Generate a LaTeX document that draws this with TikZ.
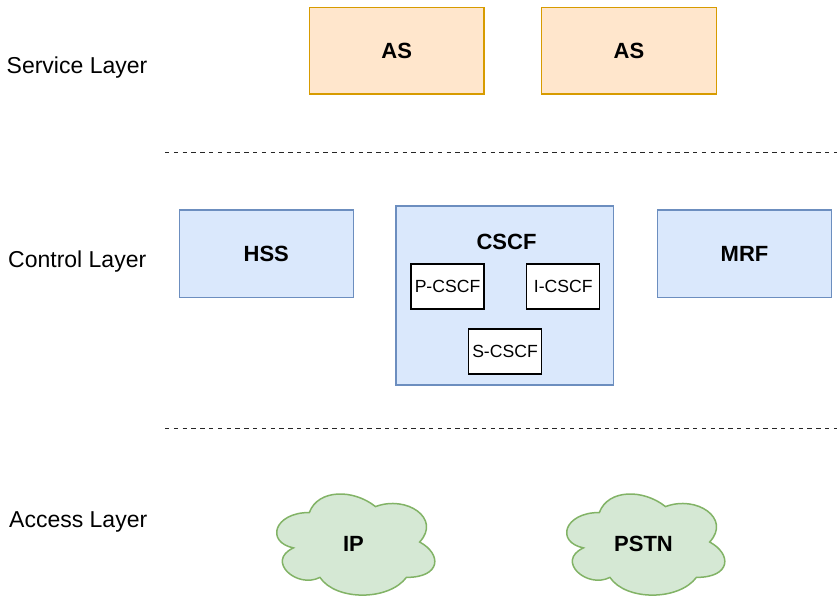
\documentclass[tikz,border=0pt]{standalone}
\usepackage{fontspec}
\setmainfont{Liberation Sans}
\definecolor{asfill}{HTML}{FFE6CC}
\definecolor{asdraw}{HTML}{D79B00}
\definecolor{bfill}{HTML}{DAE8FC}
\definecolor{bdraw}{HTML}{6C8EBF}
\definecolor{gfill}{HTML}{D5E8D4}
\definecolor{gdraw}{HTML}{82B366}
\tikzset{
  layerlabel/.style={anchor=base west, inner sep=0pt, font=\fontsize{23}{27}\selectfont},
  boldlabel/.style={inner sep=0pt, font=\fontsize{22}{26}\selectfont\bfseries},
  asbox/.style={draw=asdraw, fill=asfill, line width=1.5pt, minimum width=174.7pt, minimum height=86.7pt, inner sep=0pt, font=\fontsize{22}{26}\selectfont\bfseries},
  bluebox/.style={draw=bdraw, fill=bfill, line width=1.5pt, inner sep=0pt, font=\fontsize{22}{26}\selectfont\bfseries},
  subbox/.style={draw=black, fill=white, line width=1.3pt, minimum width=73pt, minimum height=45pt, inner sep=0pt, font=\fontsize{17.6}{21}\selectfont},
  sepline/.style={line width=1.5pt, black!85, dash pattern=on 4.4pt off 4.4pt},
  cloudshape/.pic={
    \filldraw[fill=gfill, draw=gdraw, line width=1.5pt]
      (0.25,0.25) .. controls (0.05,0.25) and (0,0.5) .. (0.16,0.55)
      .. controls (0,0.66) and (0.18,0.9) .. (0.31,0.8)
      .. controls (0.4,1) and (0.7,1) .. (0.8,0.8)
      .. controls (1,0.8) and (1,0.6) .. (0.875,0.5)
      .. controls (1,0.3) and (0.8,0.1) .. (0.625,0.2)
      .. controls (0.5,0.05) and (0.3,0.05) .. (0.25,0.25) -- cycle;
  }
}
\begin{document}
\begin{tikzpicture}[x=1pt, y=-1pt]
\useasboundingbox (0,0) rectangle (837,596);

% layer labels
\node[layerlabel] (svc) at (6.5,73.3) {Service Layer};
\node[layerlabel] (ctl) at (8,267.7) {Control Layer};
\node[layerlabel] (acc) at (9,527.7) {Access Layer};

% separators
\coordinate (s1a) at (165,152.3);
\coordinate (s1b) at (837,152.3);
\coordinate (s2a) at (165,428.3);
\coordinate (s2b) at (837,428.3);
\draw[sepline] (s1a) -- (s1b);
\draw[sepline] (s2a) -- (s2b);

% service layer
\node[asbox] (as1) at (396.7,50.7) {AS};
\node[asbox] (as2) at (629,50.7) {AS};

% control layer
\node[bluebox, minimum width=174pt, minimum height=87.3pt] (hss) at (266.3,253.7) {HSS};
\node[bluebox, minimum width=174.4pt, minimum height=87.3pt] (mrf) at (744.5,253.7) {MRF};
\node[bluebox, minimum width=217.3pt, minimum height=179pt] (cscf) at (504.7,295.5) {};
\node[boldlabel] (cscft) at (506.5,241.7) {CSCF};
\node[subbox] (pcscf) at (447.5,286.5) {P-CSCF};
\node[subbox] (icscf) at (563.3,286.5) {I-CSCF};
\node[subbox] (scscf) at (505,351.5) {S-CSCF};

% access layer
\pic[xscale=176.5, yscale=118] at (265.2,483) {cloudshape};
\pic[xscale=176.5, yscale=118] at (555.2,483) {cloudshape};
\node[boldlabel] (ip) at (353.5,543.5) {IP};
\node[boldlabel] (pstn) at (643.5,543.5) {PSTN};
\end{tikzpicture}
\end{document}
